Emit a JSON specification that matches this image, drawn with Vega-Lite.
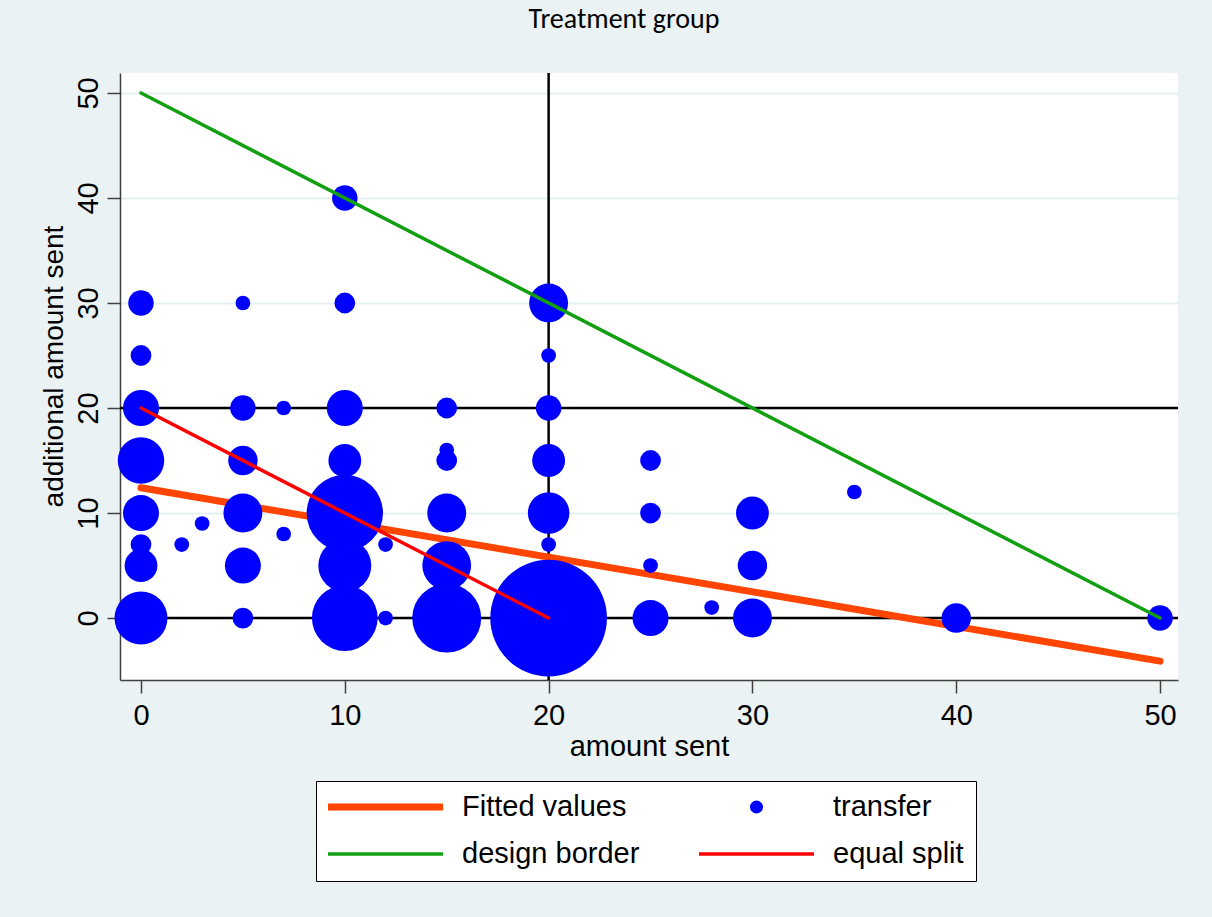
{
  "$schema": "https://vega.github.io/schema/vega-lite/v6.json",
  "width": 1058,
  "height": 607,
  "autosize": {"type": "none"},
  "padding": {"left": 120, "top": 73, "right": 34, "bottom": 237},
  "background": "#EAF2F3",
  "title": {
    "text": "Treatment group",
    "anchor": "middle",
    "frame": "group",
    "font": "Carlito, Lato, sans-serif",
    "fontSize": 28,
    "fontWeight": "normal",
    "color": "#000000",
    "baseline": "alphabetic",
    "offset": 16,
    "dx": -25
  },
  "config": {
    "view": {"fill": "white", "stroke": null},
    "axis": {
      "labelFont": "Liberation Sans",
      "labelFontSize": 29,
      "labelColor": "#000000",
      "titleFont": "Liberation Sans",
      "titleFontSize": 29,
      "titleFontWeight": "normal",
      "titleColor": "#000000",
      "domainColor": "#404040",
      "domainWidth": 1.5,
      "tickColor": "#404040",
      "tickWidth": 1.5,
      "tickSize": 13,
      "labelFlush": false,
      "labelOverlap": false
    }
  },
  "datasets": {
    "bubbles": [
      {"series": "transfer", "x": 0, "y": 30, "n": 3},
      {"series": "transfer", "x": 0, "y": 25, "n": 2},
      {"series": "transfer", "x": 0, "y": 20, "n": 6},
      {"series": "transfer", "x": 0, "y": 15, "n": 10},
      {"series": "transfer", "x": 0, "y": 10, "n": 6},
      {"series": "transfer", "x": 0, "y": 7, "n": 2},
      {"series": "transfer", "x": 0, "y": 5, "n": 5},
      {"series": "transfer", "x": 0, "y": 0, "n": 13},
      {"series": "transfer", "x": 2, "y": 7, "n": 1},
      {"series": "transfer", "x": 3, "y": 9, "n": 1},
      {"series": "transfer", "x": 5, "y": 30, "n": 1},
      {"series": "transfer", "x": 5, "y": 20, "n": 3},
      {"series": "transfer", "x": 5, "y": 15, "n": 4},
      {"series": "transfer", "x": 5, "y": 10, "n": 7},
      {"series": "transfer", "x": 5, "y": 5, "n": 6},
      {"series": "transfer", "x": 5, "y": 0, "n": 2},
      {"series": "transfer", "x": 7, "y": 20, "n": 1},
      {"series": "transfer", "x": 7, "y": 8, "n": 1},
      {"series": "transfer", "x": 10, "y": 40, "n": 3},
      {"series": "transfer", "x": 10, "y": 30, "n": 2},
      {"series": "transfer", "x": 10, "y": 20, "n": 6},
      {"series": "transfer", "x": 10, "y": 15, "n": 5},
      {"series": "transfer", "x": 10, "y": 10, "n": 27},
      {"series": "transfer", "x": 10, "y": 5, "n": 13},
      {"series": "transfer", "x": 10, "y": 0, "n": 20},
      {"series": "transfer", "x": 12, "y": 7, "n": 1},
      {"series": "transfer", "x": 12, "y": 0, "n": 1},
      {"series": "transfer", "x": 15, "y": 20, "n": 2},
      {"series": "transfer", "x": 15, "y": 16, "n": 1},
      {"series": "transfer", "x": 15, "y": 15, "n": 2},
      {"series": "transfer", "x": 15, "y": 10, "n": 7},
      {"series": "transfer", "x": 15, "y": 5, "n": 11},
      {"series": "transfer", "x": 15, "y": 0, "n": 22},
      {"series": "transfer", "x": 20, "y": 30, "n": 7},
      {"series": "transfer", "x": 20, "y": 25, "n": 1},
      {"series": "transfer", "x": 20, "y": 20, "n": 3},
      {"series": "transfer", "x": 20, "y": 15, "n": 5},
      {"series": "transfer", "x": 20, "y": 10, "n": 8},
      {"series": "transfer", "x": 20, "y": 7, "n": 1},
      {"series": "transfer", "x": 20, "y": 0, "n": 63},
      {"series": "transfer", "x": 25, "y": 15, "n": 2},
      {"series": "transfer", "x": 25, "y": 10, "n": 2},
      {"series": "transfer", "x": 25, "y": 5, "n": 1},
      {"series": "transfer", "x": 25, "y": 0, "n": 6},
      {"series": "transfer", "x": 28, "y": 1, "n": 1},
      {"series": "transfer", "x": 30, "y": 10, "n": 5},
      {"series": "transfer", "x": 30, "y": 5, "n": 4},
      {"series": "transfer", "x": 30, "y": 0, "n": 7},
      {"series": "transfer", "x": 35, "y": 12, "n": 1},
      {"series": "transfer", "x": 40, "y": 0, "n": 4},
      {"series": "transfer", "x": 50, "y": 0, "n": 3}
    ],
    "lines": [
      {"series": "Fitted values", "x": 0, "y": 12.4},
      {"series": "Fitted values", "x": 50, "y": -4.1},
      {"series": "design border", "x": 0, "y": 50},
      {"series": "design border", "x": 50, "y": 0},
      {"series": "equal split", "x": 0, "y": 20},
      {"series": "equal split", "x": 20, "y": 0}
    ],
    "hlines": [{"value": 0}, {"value": 20}],
    "vlines": [{"value": 20}]
  },
  "encoding": {
    "x": {
      "field": "x",
      "type": "quantitative",
      "scale": {"domain": [-1.03, 50.88], "nice": false, "zero": false},
      "axis": {
        "title": "amount sent",
        "values": [0, 10, 20, 30, 40, 50],
        "grid": false,
        "labelPadding": 8,
        "titlePadding": 2
      }
    },
    "y": {
      "field": "y",
      "type": "quantitative",
      "scale": {"domain": [-5.9, 51.9], "nice": false, "zero": false},
      "axis": {
        "title": "additional amount sent",
        "titleFontSize": 28,
        "titleY": 293,
        "values": [0, 10, 20, 30, 40, 50],
        "grid": true,
        "gridColor": "#E6EFF1",
        "gridWidth": 2,
        "labelAngle": 270,
        "labelAlign": "center",
        "labelBaseline": "alphabetic",
        "labelPadding": 10,
        "titlePadding": 6
      }
    }
  },
  "layer": [
    {
      "data": {"name": "hlines"},
      "mark": {"type": "rule", "color": "#000000", "strokeWidth": 2.5},
      "encoding": {"y": {"field": "value", "type": "quantitative"}, "x": null}
    },
    {
      "data": {"name": "vlines"},
      "mark": {"type": "rule", "color": "#000000", "strokeWidth": 2.5},
      "encoding": {"x": {"field": "value", "type": "quantitative"}, "y": null}
    },
    {
      "data": {"name": "lines"},
      "transform": [{"filter": "datum.series === 'Fitted values'"}],
      "mark": {"type": "line", "strokeWidth": 7, "strokeCap": "round"},
      "encoding": {
        "color": {"field": "series", "type": "nominal"}
      }
    },
    {
      "data": {"name": "bubbles"},
      "mark": {"type": "point", "filled": true, "opacity": 1, "shape": "circle", "strokeWidth": 0},
      "encoding": {
        "color": {"field": "series", "type": "nominal"},
        "size": {
          "field": "n",
          "type": "quantitative",
          "scale": {"type": "linear", "domain": [0, 63], "range": [0, 13610], "zero": true},
          "legend": null
        }
      }
    },
    {
      "data": {"name": "lines"},
      "transform": [{"filter": "datum.series === 'design border'"}],
      "mark": {"type": "line", "strokeWidth": 3.5, "strokeCap": "round"},
      "encoding": {
        "color": {"field": "series", "type": "nominal"}
      }
    },
    {
      "data": {"name": "lines"},
      "transform": [{"filter": "datum.series === 'equal split'"}],
      "mark": {"type": "line", "strokeWidth": 3.5, "strokeCap": "round"},
      "encoding": {
        "color": {
          "field": "series",
          "type": "nominal",
          "scale": {
            "domain": ["Fitted values", "transfer", "design border", "equal split"],
            "range": ["#FF4500", "#0000FF", "#12A012", "#FF0000"]
          },
          "legend": {
            "orient": "none",
            "legendX": 196,
            "legendY": 708,
            "title": null,
            "columns": 2,
            "direction": "horizontal",
            "fillColor": "white",
            "strokeColor": "#000000",
            "padding": 12,
            "rowPadding": 18,
            "columnPadding": 59,
            "clipHeight": 28,
            "symbolType": "stroke",
            "symbolSize": 13225,
            "symbolOffset": 43,
            "symbolStrokeWidth": 3,
            "labelOffset": 62,
            "labelFont": "Liberation Sans",
            "labelFontSize": 29,
            "labelColor": "#000000",
            "labelBaseline": "middle",
            "labelLimit": 400,
            "encode": {
              "symbols": {
                "update": {
                  "shape": {"signal": "datum.value === 'transfer' ? 'circle' : 'stroke'"},
                  "size": {"signal": "datum.value === 'transfer' ? 170 : 13225"},
                  "strokeWidth": {"signal": "datum.value === 'Fitted values' ? 7 : datum.value === 'transfer' ? 0 : 3.5"},
                  "fill": {"signal": "datum.value === 'transfer' ? '#0000FF' : 'transparent'"},
                  "stroke": {"signal": "datum.value === 'Fitted values' ? '#FF4500' : datum.value === 'design border' ? '#12A012' : datum.value === 'equal split' ? '#FF0000' : '#0000FF'"},
                  "opacity": {"value": 1}
                }
              }
            }
          }
        }
      }
    }
  ]
}
